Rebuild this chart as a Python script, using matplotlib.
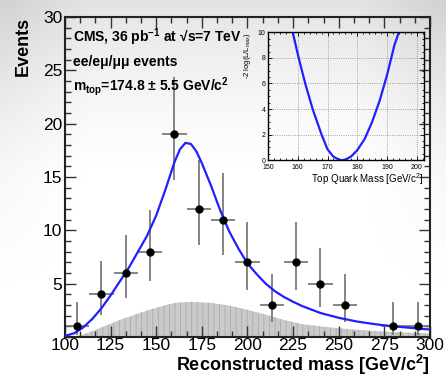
import numpy as np
import matplotlib
matplotlib.use("Agg")
import matplotlib.pyplot as plt
from matplotlib.ticker import MultipleLocator

plt.rcParams['font.family'] = ['Liberation Sans', 'DejaVu Sans']
plt.rcParams['mathtext.fontset'] = 'custom'
plt.rcParams['mathtext.rm'] = 'Liberation Sans'
plt.rcParams['mathtext.bf'] = 'Liberation Sans:bold'
plt.rcParams['mathtext.it'] = 'Liberation Sans:italic'
plt.rcParams['hatch.linewidth'] = 0.6

# ---- data ----
bin_centers = [106.7, 120.0, 133.3, 146.7, 160.0, 173.3, 186.7, 200.0,
               213.3, 226.7, 240.0, 253.3, 280.0, 293.3]
counts = [1, 4, 6, 8, 19, 12, 11, 7, 3, 7, 5, 3, 1, 1]
err_low = [0.83, 1.91, 2.38, 2.77, 4.3, 3.38, 3.27, 2.58, 1.63, 2.58, 2.16, 1.63, 0.83, 0.83]
err_high = [2.30, 3.16, 3.58, 3.95, 5.4, 4.61, 4.41, 3.77, 2.92, 3.77, 3.38, 2.92, 2.30, 2.30]
bin_half = 6.67

fit_mass = [100, 105, 110, 115, 120, 125, 130, 135, 140, 145, 150, 155, 160,
            163, 166, 169, 172, 175, 180, 185, 190, 195, 200, 205, 210, 215,
            220, 225, 230, 240, 250, 260, 270, 280, 290, 300]
fit_events = [0.1, 0.35, 0.9, 1.7, 2.7, 3.9, 5.2, 6.5, 8.0, 9.5, 11.4, 13.8, 16.4,
              17.6, 18.2, 18.1, 17.4, 16.3, 14.2, 11.9, 9.9, 8.3, 6.9, 5.9, 5.0, 4.3,
              3.75, 3.3, 2.9, 2.25, 1.8, 1.45, 1.2, 1.0, 0.85, 0.7]

bkg_mass = [100, 105, 110, 115, 120, 130, 140, 150, 160, 170, 180, 190, 200,
            210, 220, 230, 240, 250, 260, 270, 280, 290, 300]
bkg_events = [0.0, 0.05, 0.25, 0.55, 0.9, 1.6, 2.2, 2.75, 3.2, 3.3, 3.2, 2.95, 2.55,
              2.1, 1.6, 1.2, 1.0, 0.82, 0.68, 0.56, 0.46, 0.4, 0.34]

nll_mass = [158.3, 160.3, 162.5, 165.0, 168.0, 170.0, 172.0, 174.0, 174.8,
            176.0, 178.0, 180.0, 182.5, 185.0, 187.5, 190.0, 192.5, 194.0]
nll_value = [10.0, 8.0, 6.0, 4.0, 2.0, 0.85, 0.27, 0.03, 0.0,
             0.04, 0.3, 0.78, 1.66, 2.99, 4.63, 6.64, 9.0, 10.0]

# ---- figure ----
fig = plt.figure(figsize=(4.46, 3.76), dpi=100)

# slide-like grey gradient background
bg = fig.add_axes([0, 0, 1, 1], zorder=-10)
yy, xx = np.mgrid[0:1:200j, 0:1:240j]
g = (1 - 0.11 * np.clip(1 - yy / 0.5, 0, 1) ** 1.5
     - 0.07 * np.clip(np.abs(xx - 0.5) * 2 - 0.6, 0, 1) / 0.4 * np.clip(1 - yy / 0.8, 0, 1))
bg.imshow(g, cmap='gray', vmin=0, vmax=1, aspect='auto', extent=[0, 1, 1, 0])
bg.axis('off')

ax = fig.add_axes([0.1457, 0.1037, 0.8184, 0.851])
ax.patch.set_alpha(0)

ax.fill_between(bkg_mass, 0, bkg_events, facecolor='#cacaca', edgecolor='#ababab',
                hatch='|||', linewidth=0, zorder=1)
ax.plot(fit_mass, fit_events, color='#1f1fff', lw=1.6, zorder=3)
ax.errorbar(bin_centers, counts, yerr=[err_low, err_high], xerr=bin_half,
            fmt='none', ecolor='#707070', elinewidth=1.2, capsize=0, zorder=2)
ax.plot(bin_centers, counts, 'o', color='black', ms=5, zorder=4)

ax.set_xlim(100, 300)
ax.set_ylim(0, 30)
ax.xaxis.set_major_locator(MultipleLocator(25))
ax.xaxis.set_minor_locator(MultipleLocator(25 / 3))
ax.yaxis.set_major_locator(MultipleLocator(5))
ax.yaxis.set_minor_locator(MultipleLocator(1))
ax.tick_params(which='both', direction='in', top=True, right=True, width=1.0, color='#333333')
ax.tick_params(which='major', length=8, labelsize=12.5, pad=2)
ax.tick_params(axis='x', which='major', pad=1)
ax.tick_params(which='minor', length=4)
ax.set_yticks([5, 10, 15, 20, 25, 30])
for s in ax.spines.values():
    s.set_linewidth(1.5)
    s.set_color('#222222')

ax.set_xlabel('Reconstructed mass [GeV/c$^\\mathbf{2}$]', fontsize=13, fontweight='bold',
              ha='right', x=1.0, labelpad=-0.5)
ax.set_ylabel('Events', fontsize=13, fontweight='bold', ha='right', y=1.0, labelpad=8)

ax.text(0.022, 0.937, 'CMS, 36 pb$^{\\mathbf{-1}}$ at √s=7 TeV', transform=ax.transAxes,
        fontsize=10, fontweight='bold', va='center', ha='left')
ax.text(0.022, 0.859, 'ee/eμ/μμ events', transform=ax.transAxes,
        fontsize=10, fontweight='bold', va='center', ha='left')
ax.text(0.022, 0.784, 'm$_{\\mathbf{top}}$=174.8 ± 5.5 GeV/c$^{\\mathbf{2}}$', transform=ax.transAxes,
        fontsize=10, fontweight='bold', va='center', ha='left')

# ---- inset ----
ins = fig.add_axes([0.601, 0.574, 0.350, 0.340])
ins.patch.set_alpha(0)
ins.plot(nll_mass, nll_value, color='#1f1fff', lw=1.6)
ins.set_xlim(150, 202.5)
ins.set_ylim(0, 10)
ins.set_xticks([150, 160, 170, 180, 190, 200])
ins.set_yticks([0, 2, 4, 6, 8, 10])
ins.xaxis.set_minor_locator(MultipleLocator(2))
ins.yaxis.set_minor_locator(MultipleLocator(0.5))
ins.grid(True, which='major', linestyle=':', color='#888888', lw=0.6)
ins.tick_params(which='both', direction='in', top=True, right=True, labelsize=5, width=0.6)
ins.tick_params(which='major', length=3)
ins.tick_params(which='minor', length=1.5)
ins.tick_params(axis='x', pad=2.5)
ins.tick_params(axis='y', pad=2)
for s in ins.spines.values():
    s.set_linewidth(1.0)
ins.set_xlabel('Top Quark Mass [GeV/c$^2$]', fontsize=7, ha='right', x=1.0, labelpad=0.5)
ins.set_ylabel('-2 log(L/L$_{max}$)', fontsize=5.5, ha='right', y=1.0, labelpad=3)

fig.savefig('out.png', dpi=100)
